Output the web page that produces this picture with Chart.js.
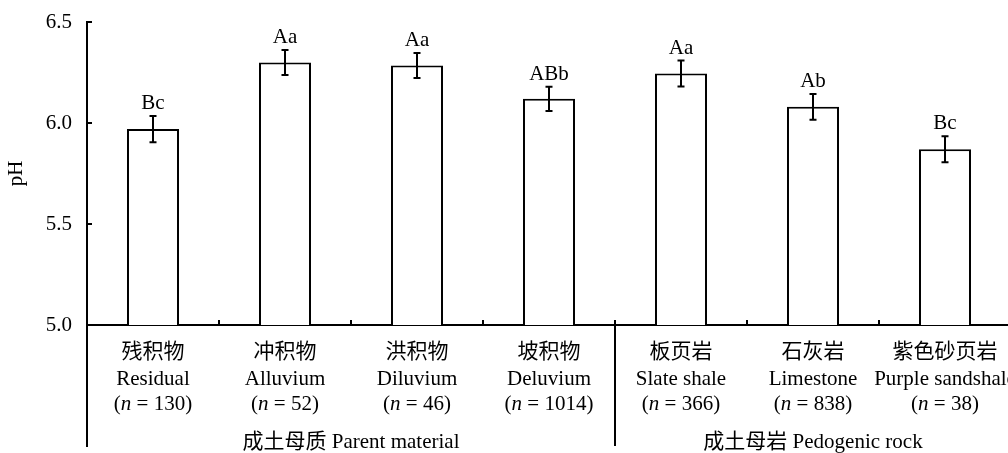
<!DOCTYPE html>
<html>
<head>
<meta charset="utf-8">
<script src="https://cdn.jsdelivr.net/npm/chart.js@4.4.1/dist/chart.umd.min.js"></script>
<style>
  html, body { margin: 0; padding: 0; background: #fff; overflow: hidden; }
  #wrap { position: relative; width: 1012px; height: 453px; }
</style>
</head>
<body>
<div id="wrap"><canvas id="c"></canvas></div>
<script>
// Soil pH by parent material and pedogenic rock
const categoriesZh = ['残积物', '冲积物', '洪积物', '坡积物', '板页岩', '石灰岩', '紫色砂页岩'];
const categoriesEn = ['Residual', 'Alluvium', 'Diluvium', 'Deluvium', 'Slate shale', 'Limestone', 'Purple sandshale'];
const sampleSizes = [130, 52, 46, 1014, 366, 838, 38];
const phMeans = [5.97, 6.30, 6.285, 6.12, 6.245, 6.08, 5.87];
const phErrors = [0.065, 0.062, 0.062, 0.06, 0.064, 0.064, 0.064];
const significance = ['Bc', 'Aa', 'Aa', 'ABb', 'Aa', 'Ab', 'Bc'];
const groupNames = ['成土母质 Parent material', '成土母岩 Pedogenic rock'];
const groupStarts = [0, 4];
const groupEnds = [3, 6];
const yTicks = [5.0, 5.5, 6.0, 6.5];

const FAMILY = '"Liberation Serif", "Times New Roman", "Noto Sans CJK SC", serif';
const CJK = '"Noto Sans CJK SC", sans-serif';
const SIZE = 21;

const decorations = {
  id: 'decorations',
  afterDatasetsDraw(chart) {
    const ctx = chart.ctx;
    const xs = chart.scales.x, ys = chart.scales.y;
    const area = chart.chartArea;
    const step = xs.getPixelForValue(1) - xs.getPixelForValue(0);
    ctx.save();
    ctx.strokeStyle = '#000';
    ctx.fillStyle = '#000';
    ctx.lineWidth = 2;

    // inward tick marks on both axes
    ctx.beginPath();
    yTicks.forEach(v => {
      const y = Math.round(ys.getPixelForValue(v));
      ctx.moveTo(area.left, y); ctx.lineTo(area.left + 5, y);
    });
    for (let i = 1; i < categoriesEn.length; i++) {
      const x = Math.round(xs.getPixelForValue(i) - step / 2);
      ctx.moveTo(x, area.bottom); ctx.lineTo(x, area.bottom - 5);
    }
    ctx.stroke();

    // error bars and significance letters
    ctx.font = SIZE + 'px ' + FAMILY;
    ctx.textAlign = 'center';
    ctx.textBaseline = 'alphabetic';
    phMeans.forEach((m, i) => {
      const x = Math.round(xs.getPixelForValue(i));
      const yHi = ys.getPixelForValue(m + phErrors[i]);
      const yLo = ys.getPixelForValue(m - phErrors[i]);
      ctx.beginPath();
      ctx.moveTo(x, yHi); ctx.lineTo(x, yLo);
      ctx.moveTo(x - 3.5, yHi); ctx.lineTo(x + 3.5, yHi);
      ctx.moveTo(x - 3.5, yLo); ctx.lineTo(x + 3.5, yLo);
      ctx.stroke();
      ctx.fillText(significance[i], x, yHi - 7);
    });

    // category labels: Chinese name, English name, sample size
    categoriesZh.forEach((zh, i) => {
      const x = xs.getPixelForValue(i);
      ctx.textAlign = 'center';
      ctx.font = SIZE + 'px ' + CJK;
      ctx.fillText(zh, x, 358);
      ctx.font = SIZE + 'px ' + FAMILY;
      ctx.fillText(categoriesEn[i], x, 385);

      const a = '(', b = 'n', c = ' = ' + sampleSizes[i] + ')';
      ctx.font = SIZE + 'px ' + FAMILY;
      const wa = ctx.measureText(a).width, wc = ctx.measureText(c).width;
      ctx.font = 'italic ' + SIZE + 'px ' + FAMILY;
      const wb = ctx.measureText(b).width;
      const left = x - (wa + wb + wc) / 2;
      ctx.textAlign = 'left';
      ctx.font = SIZE + 'px ' + FAMILY;
      ctx.fillText(a, left, 409.5);
      ctx.font = 'italic ' + SIZE + 'px ' + FAMILY;
      ctx.fillText(b, left + wa, 409.5);
      ctx.font = SIZE + 'px ' + FAMILY;
      ctx.fillText(c, left + wa + wb, 409.5);
    });

    // extended axis line and group separator
    ctx.beginPath();
    ctx.moveTo(area.left, area.bottom);
    ctx.lineTo(area.left, 447);
    const sep = Math.round((xs.getPixelForValue(groupEnds[0]) + xs.getPixelForValue(groupStarts[1])) / 2);
    ctx.moveTo(sep, area.bottom - 5);
    ctx.lineTo(sep, 446);
    ctx.stroke();

    // group titles
    ctx.textAlign = 'center';
    ctx.font = SIZE + 'px ' + FAMILY;
    groupNames.forEach((g, k) => {
      const l = xs.getPixelForValue(groupStarts[k]) - step / 2;
      const r = xs.getPixelForValue(groupEnds[k]) + step / 2;
      ctx.fillText(g, (l + r) / 2, 448);
    });
    ctx.restore();
  }
};

new Chart(document.getElementById('c'), {
  type: 'bar',
  data: {
    labels: categoriesEn,
    datasets: [{
      data: phMeans,
      backgroundColor: '#ffffff',
      borderColor: '#000000',
      borderWidth: 2,
      barPercentage: 0.394,
      categoryPercentage: 1
    }]
  },
  options: {
    responsive: true,
    maintainAspectRatio: false,
    animation: false,
    layout: { padding: { top: 22, right: 1, left: 0, bottom: 0 } },
    plugins: { legend: { display: false }, tooltip: { enabled: false } },
    scales: {
      x: {
        type: 'category',
        offset: true,
        grid: { display: false },
        border: { display: true, color: '#000', width: 2 },
        ticks: { display: false },
        afterFit(s) { s.height = 128; }
      },
      y: {
        min: 5.0,
        max: 6.5,
        afterBuildTicks(s) { s.ticks = yTicks.map(v => ({ value: v })); },
        ticks: {
          callback: v => Number(v).toFixed(1),
          font: { family: FAMILY, size: SIZE },
          color: '#000',
          padding: 7
        },
        grid: { display: false },
        border: { display: true, color: '#000', width: 2 },
        title: {
          display: true,
          text: 'pH',
          color: '#000',
          font: { family: FAMILY, size: SIZE },
          padding: { top: 4, bottom: 0 }
        },
        afterFit(s) { s.width = 87; s.paddingTop = 0; s.paddingBottom = 0; }
      }
    }
  },
  plugins: [decorations]
});
</script>
</body>
</html>
